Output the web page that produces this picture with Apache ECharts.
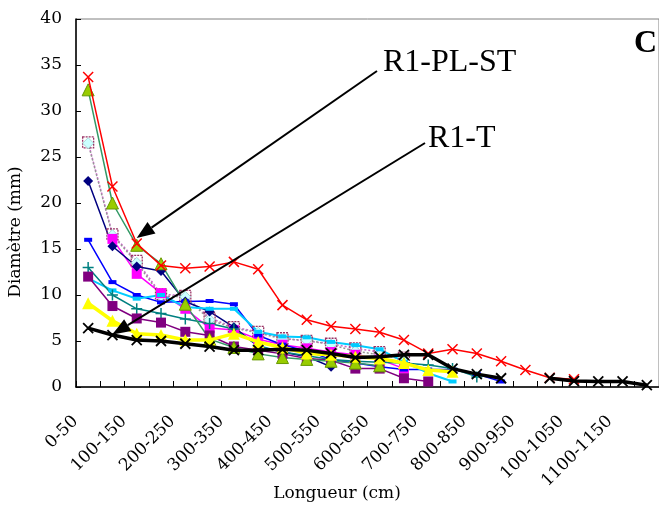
<!DOCTYPE html>
<html>
<head>
<meta charset="utf-8">
<script src="https://cdn.jsdelivr.net/npm/echarts@6/dist/echarts.min.js"></script>
<style>
html,body{margin:0;padding:0;background:#ffffff;}
#chart{width:659px;height:509px;}
</style>
</head>
<body>
<div id="chart"></div>
<script>
// ---- data ----
const categories = ['0-50','50-100','100-150','150-200','200-250','250-300','300-350','350-400',
  '400-450','450-500','500-550','550-600','600-650','650-700','700-750','750-800',
  '800-850','850-900','900-950','950-1000','100-1050','1050-1100','1100-1150','1150-1200'];

const yTickValues = [0, 5, 10, 15, 20, 25, 30, 35, 40];

const seriesRed    = [33.7, 21.8, 15.6, 13.2, 12.9, 13.1, 13.6, 12.8, 8.9, 7.3, 6.6, 6.3, 5.95, 5.1, 3.65, 4.1, 3.65, 2.8, 1.85, 1.0, 0.85];
const seriesGreen  = [32.3, 20.0, 15.4, 13.4, 9.0, 5.2, 4.3, 3.6, 3.2, 3.0, 2.8, 2.6, 2.3];
const seriesNavy   = [22.4, 15.3, 13.1, 12.6, 9.3, 8.2, 6.5, 4.4, 3.8, 3.3, 2.2];
const seriesMagenta= [null, 16.1, 12.3, 10.2, 8.5, 6.4, 6.2, 5.2, 4.6, 4.2, 3.8, 3.5, 3.0, 2.0];
const seriesPlum   = [26.6, 16.6, 13.7, 10.1, 9.9, 7.5, 6.5, 6.0, 5.3, 5.0, 4.7, 4.2, 3.8, 3.2];
const seriesPale   = [26.5, 16.5, 13.5, 9.9, 9.8, 7.3, 6.4, 5.9, 5.2, 5.1, 4.6, 3.9, 3.5, 3.0];
const seriesBlue   = [16.0, 11.4, 10.0, 9.2, 9.3, 9.35, 9.0, 5.6, 4.6, 3.9, 3.0, 2.6, 2.2, 1.9, 1.9, 1.9, 1.4, 0.6];
const seriesSky    = [11.8, 10.5, 9.6, 10.0, 8.7, 8.5, 8.5, 6.0, 5.5, 5.4, 4.9, 4.55, 4.1, 2.75, 1.5, 0.6];
const seriesTeal   = [13.0, 10.0, 8.5, 8.0, 7.4, 6.9, 6.3, 4.5, 3.8, 3.4, 3.0, 2.8, 2.7, 2.6, 2.4, 2.0, 1.1];
const seriesPurple = [12.0, 8.8, 7.45, 7.0, 6.0, 5.6, 4.4, 4.0, 3.6, 3.1, 2.9, 2.0, 2.0, 0.95, 0.6];
const seriesYellow = [9.1, 7.2, 5.8, 5.65, 5.1, 5.1, 5.8, 4.9, 4.3, 3.65, 3.5, 3.3, 3.1, 2.6, 1.85, 1.65];
const seriesBlack  = [6.4, 5.65, 5.1, 5.0, 4.7, 4.4, 4.0, 4.0, 4.1, 4.0, 3.65, 3.2, 3.3, 3.5, 3.5, 2.0, 1.4, 0.95, null, 0.95, 0.65, 0.6, 0.6, 0.2];

// annotation targets (category, value)
const arrowPLST = ['100-150', 16.2];
const arrowT    = ['50-100', 5.7];

// ---- styles ----
const SERIF = '"DejaVu Serif", serif';
const TIMES = '"Liberation Serif", "Times New Roman", serif';
const SYM_X = 'path://M0,0L10,10M10,0L0,10';
const SYM_PLUS = 'path://M5,0L5,10M0,5L10,5';

function mk(name, data, o) {
  return {
    name: name,
    type: 'line',
    data: data,
    connectNulls: false,
    showSymbol: true,
    showAllSymbol: true,
    symbol: o.symbol,
    symbolSize: o.size,
    animation: false,
    z: o.z || 2,
    lineStyle: { color: o.line, width: o.width || 1.5, type: o.type || 'solid' },
    itemStyle: { color: o.fill, borderColor: o.border || o.fill, borderWidth: o.bw || 0, borderType: o.btype || 'solid' },
    emphasis: { disabled: true }
  };
}

const chart = echarts.init(document.getElementById('chart'), null, { renderer: 'canvas' });

const option = {
  backgroundColor: '#ffffff',
  animation: false,
  grid: { left: 76, top: 19, width: 585, height: 368, show: true, borderColor: '#808080', borderWidth: 1, backgroundColor: 'transparent' },
  xAxis: {
    type: 'category',
    data: categories,
    boundaryGap: true,
    axisLine: { show: true, lineStyle: { color: '#000', width: 1.5 } },
    axisTick: { show: true, inside: true, length: 6, interval: 0, lineStyle: { color: '#000', width: 1 } },
    axisLabel: { show: true, interval: 1, rotate: 45, margin: 19, padding: [0, 18, 0, 0], color: '#000', fontFamily: SERIF, fontSize: 17 },
    splitLine: { show: false }
  },
  yAxis: {
    type: 'value',
    min: yTickValues[0],
    max: yTickValues[yTickValues.length - 1],
    interval: yTickValues[1] - yTickValues[0],
    axisLine: { show: true, lineStyle: { color: '#000', width: 1.5 } },
    axisTick: { show: true, inside: true, length: 5, lineStyle: { color: '#000', width: 1 } },
    axisLabel: { color: '#000', fontFamily: SERIF, fontSize: 17, margin: 14 },
    splitLine: { show: false }
  },
  series: [
    mk('Série 2', seriesPlum,   { symbol: 'rect', size: 11, line: '#CC66CC', type: [2, 2], fill: 'rgba(255,255,255,0)', border: '#993366', bw: 1.3, btype: [2, 1] }),
    mk('Série 1', seriesPale,   { symbol: 'diamond', size: 11, line: '#969696', type: [2, 2], fill: '#CCFFFF', border: '#99CCCC', bw: 0.8 }),
    mk('Série 3', seriesMagenta,{ symbol: 'rect', size: 10, line: '#FF00FF', fill: '#FF00FF' }),
    mk('Série 4', seriesNavy,   { symbol: 'diamond', size: 10, line: '#000080', fill: '#000080' }),
    mk('Série 5', seriesBlue,   { symbol: 'rect', size: [8, 4], line: '#0000FF', fill: '#0000FF' }),
    mk('Série 6', seriesSky,    { symbol: 'rect', size: [8, 4], line: '#00CCFF', fill: '#00CCFF', width: 2 }),
    mk('Série 7', seriesTeal,   { symbol: SYM_PLUS, size: 11, line: '#008080', fill: '#008080', border: '#008080', bw: 1.5 }),
    mk('Série 8', seriesPurple, { symbol: 'rect', size: 10, line: '#800080', fill: '#800080' }),
    mk('Série 9', seriesGreen,  { symbol: 'triangle', size: 12, line: '#339966', fill: '#99CC00', border: '#669900', bw: 1 }),
    mk('R1-PL-ST', seriesRed,   { symbol: SYM_X, size: 10, line: '#FF0000', fill: '#FF0000', border: '#FF0000', bw: 1.5, z: 3 }),
    mk('Série 11', seriesYellow,{ symbol: 'triangle', size: 12, line: '#FFFF00', fill: '#FFFF00', width: 3.5, z: 3 }),
    mk('R1-T', seriesBlack,     { symbol: SYM_X, size: 10, line: '#000000', fill: '#000000', border: '#000000', bw: 1.8, width: 3.5, z: 4 })
  ]
};
chart.setOption(option);

function arrow(sx, sy, tip, headLen, headHalf) {
  const tx = tip[0], ty = tip[1];
  const dx = tx - sx, dy = ty - sy;
  const len = Math.sqrt(dx * dx + dy * dy);
  const ux = dx / len, uy = dy / len;
  const bx = tx - ux * headLen, by = ty - uy * headLen;
  const px = -uy, py = ux;
  return [
    { type: 'line', z: 100, shape: { x1: sx, y1: sy, x2: bx, y2: by }, style: { stroke: '#000', lineWidth: 2 } },
    { type: 'polygon', z: 100, shape: { points: [[tx, ty], [bx + px * headHalf, by + py * headHalf], [bx - px * headHalf, by - py * headHalf]] }, style: { fill: '#000' } }
  ];
}

const tip1 = chart.convertToPixel({ gridIndex: 0 }, arrowPLST);
const tip2 = chart.convertToPixel({ gridIndex: 0 }, arrowT);

chart.setOption({
  graphic: [].concat(
    arrow(377, 71, tip1, 18, 7),
    arrow(425, 143, tip2, 18, 7),
    [
      { type: 'text', z: 100, style: { text: 'R1-PL-ST', x: 383, y: 63, font: '32px ' + TIMES, fill: '#000', textAlign: 'left', textVerticalAlign: 'middle' } },
      { type: 'text', z: 100, style: { text: 'R1-T', x: 428, y: 139, font: '32px ' + TIMES, fill: '#000', textAlign: 'left', textVerticalAlign: 'middle' } },
      { type: 'text', z: 100, style: { text: 'C', x: 634, y: 44, font: 'bold 32px ' + TIMES, fill: '#000', textAlign: 'left', textVerticalAlign: 'middle' } },
      { type: 'text', z: 100, style: { text: 'Longueur (cm)', x: 337, y: 494, font: '17px ' + SERIF, fill: '#000', textAlign: 'center', textVerticalAlign: 'middle' } },
      { type: 'text', z: 100, x: 16, y: 232, rotation: Math.PI / 2, style: { text: 'Diamètre (mm)', x: 0, y: 0, font: '17px ' + SERIF, fill: '#000', textAlign: 'center', textVerticalAlign: 'middle' } }
    ]
  )
});
</script>
</body>
</html>
